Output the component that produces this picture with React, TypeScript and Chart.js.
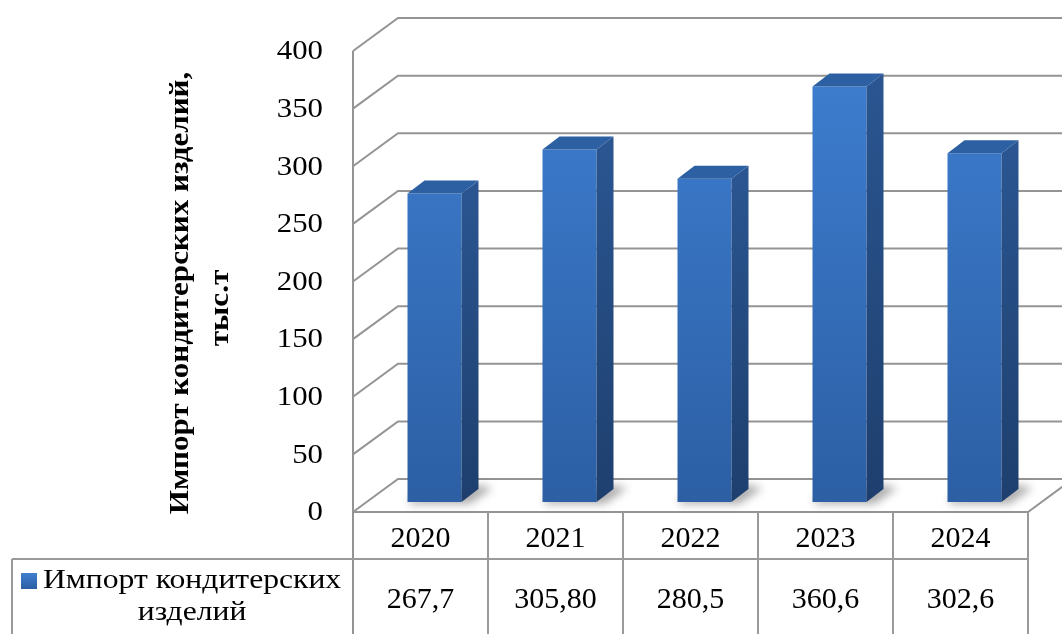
import React, { useEffect, useRef } from "react";
import { Chart, registerables } from "chart.js";

Chart.register(...registerables);

// ---- data ----
const years = ["2020", "2021", "2022", "2023", "2024"];
const importValues = [267.7, 305.8, 280.5, 360.6, 302.6];
const valueLabels = ["267,7", "305,80", "280,5", "360,6", "302,6"];
const yTicks = [0, 50, 100, 150, 200, 250, 300, 350, 400];
const seriesName = "Импорт кондитерских изделий";
const axisTitleLines = ["Импорт кондитерских изделий,", "тыс.т"];
const legendLines = ["Импорт кондитерских", "изделий"];

// ---- layout / style ----
const W = 1062;
const H = 634;
const FONT = '"Liberation Serif", "Times New Roman", serif';
const FRONT = { dx: -14, dy: 10 };
const BACK = { dx: 31, dy: -23 };
const BAR_DEPTH = { dx: 17, dy: -13 };
const GRID = "#949494";
const TABLE_ROW1 = 47;
const STRETCH = 1.1;

function stretchedText(ctx: CanvasRenderingContext2D, text: string, x: number, y: number, sx: number, rot = 0) {
  ctx.save();
  ctx.translate(x, y);
  if (rot) ctx.rotate(rot);
  ctx.scale(sx, 1);
  ctx.fillText(text, 0, 0);
  ctx.restore();
}

const pseudo3d = {
  id: "pseudo3d",
  beforeDatasetsDraw(chart: any) {
    const { ctx } = chart;
    const xs = chart.scales.x;
    const ys = chart.scales.y;
    const fl = xs.left + FRONT.dx;
    const fr = xs.right + FRONT.dx;
    const bl = xs.left + BACK.dx;
    const br = xs.right + BACK.dx;
    const top = ys.getPixelForValue(yTicks[yTicks.length - 1]);
    const zero = ys.getPixelForValue(0);
    ctx.save();
    ctx.strokeStyle = GRID;
    ctx.lineWidth = 2;
    ctx.beginPath();
    yTicks.forEach((v) => {
      const p = ys.getPixelForValue(v);
      ctx.moveTo(fl, p + FRONT.dy);
      ctx.lineTo(bl, p + BACK.dy);
      ctx.lineTo(br, p + BACK.dy);
    });
    ctx.moveTo(fl, top + FRONT.dy);
    ctx.lineTo(fl, H + 5);
    ctx.moveTo(fl, zero + FRONT.dy);
    ctx.lineTo(fr, zero + FRONT.dy);
    ctx.lineTo(br, zero + BACK.dy);
    ctx.stroke();

    // soft shadows on the floor
    const meta = chart.getDatasetMeta(0);
    ctx.filter = "blur(4px)";
    ctx.fillStyle = "rgba(0,0,0,0.32)";
    meta.data.forEach((bar: any) => {
      const { x, base, width } = bar.getProps(["x", "base", "width"], true);
      const l = x - width / 2;
      const r = x + width / 2;
      ctx.beginPath();
      ctx.moveTo(l + 2, base + 2);
      ctx.lineTo(r + 8, base + 2);
      ctx.lineTo(r + BAR_DEPTH.dx + 14, base + BAR_DEPTH.dy - 1);
      ctx.lineTo(r + BAR_DEPTH.dx, base + BAR_DEPTH.dy - 4);
      ctx.lineTo(l + 2, base - 4);
      ctx.closePath();
      ctx.fill();
    });
    ctx.restore();
  },
  afterDatasetsDraw(chart: any) {
    const { ctx } = chart;
    const meta = chart.getDatasetMeta(0);
    ctx.save();
    meta.data.forEach((bar: any) => {
      const { x, y, base, width } = bar.getProps(["x", "y", "base", "width"], true);
      const l = x - width / 2;
      const r = x + width / 2;
      const sg = ctx.createLinearGradient(0, y, 0, base);
      sg.addColorStop(0, "#2a5590");
      sg.addColorStop(1, "#1e3f6e");
      ctx.fillStyle = sg;
      ctx.beginPath();
      ctx.moveTo(r, y);
      ctx.lineTo(r + BAR_DEPTH.dx, y + BAR_DEPTH.dy);
      ctx.lineTo(r + BAR_DEPTH.dx, base + BAR_DEPTH.dy);
      ctx.lineTo(r, base);
      ctx.closePath();
      ctx.fill();
      ctx.fillStyle = "#2d60a2";
      ctx.beginPath();
      ctx.moveTo(l, y);
      ctx.lineTo(l + BAR_DEPTH.dx, y + BAR_DEPTH.dy);
      ctx.lineTo(r + BAR_DEPTH.dx, y + BAR_DEPTH.dy);
      ctx.lineTo(r, y);
      ctx.closePath();
      ctx.fill();
    });
    ctx.restore();
  },
  afterDraw(chart: any) {
    const { ctx } = chart;
    const xs = chart.scales.x;
    const ys = chart.scales.y;
    const fl = xs.left + FRONT.dx;
    const fr = xs.right + FRONT.dx;
    const zero = ys.getPixelForValue(0) + FRONT.dy;
    const catW = xs.getPixelForValue(1) - xs.getPixelForValue(0);
    const row2 = zero + TABLE_ROW1;
    const legendLeft = 12;
    ctx.save();

    // tick labels
    ctx.fillStyle = "#000";
    ctx.font = `28px ${FONT}`;
    ctx.textAlign = "right";
    ctx.textBaseline = "middle";
    yTicks.forEach((v) => {
      stretchedText(ctx, String(v), fl - 30, ys.getPixelForValue(v) + FRONT.dy + 1, STRETCH);
    });

    // axis title
    ctx.font = `bold 27px ${FONT}`;
    ctx.textAlign = "center";
    ctx.textBaseline = "alphabetic";
    stretchedText(ctx, axisTitleLines[0], 188, 293, 1.15, -Math.PI / 2);
    stretchedText(ctx, axisTitleLines[1], 228, 308, 1.15, -Math.PI / 2);

    // data table lines
    ctx.strokeStyle = "#9a9a9a";
    ctx.lineWidth = 2;
    ctx.beginPath();
    for (let i = 1; i <= years.length; i++) {
      const xv = fl + i * catW;
      ctx.moveTo(xv, zero);
      ctx.lineTo(xv, H + 5);
    }
    ctx.moveTo(legendLeft, row2);
    ctx.lineTo(fr, row2);
    ctx.moveTo(legendLeft, row2);
    ctx.lineTo(legendLeft, H + 5);
    ctx.stroke();

    // table text
    ctx.fillStyle = "#000";
    ctx.font = `30px ${FONT}`;
    ctx.textAlign = "center";
    ctx.textBaseline = "middle";
    years.forEach((yr, i) => {
      const cx = fl + (i + 0.5) * catW;
      ctx.fillText(yr, cx, zero + 27);
      ctx.fillText(valueLabels[i], cx, row2 + 41);
    });

    // legend key
    const mx = 21;
    const my = row2 + 14;
    const mg = ctx.createLinearGradient(0, my, 0, my + 16);
    mg.addColorStop(0, "#3f7fd0");
    mg.addColorStop(1, "#2b5ea3");
    ctx.fillStyle = mg;
    ctx.fillRect(mx, my, 16, 16);
    ctx.fillStyle = "#000";
    ctx.font = `28px ${FONT}`;
    ctx.textBaseline = "middle";
    const t1x = 43;
    const w1 = ctx.measureText(legendLines[0]).width * 1.13;
    ctx.textAlign = "left";
    stretchedText(ctx, legendLines[0], t1x, row2 + 22, 1.13);
    ctx.textAlign = "center";
    stretchedText(ctx, legendLines[1], t1x + w1 / 2, row2 + 54, 1.13);
    ctx.restore();
  },
};

export default function App() {
  const ref = useRef<HTMLCanvasElement | null>(null);
  useEffect(() => {
    if (!ref.current) return;
    const chart = new Chart(ref.current, {
      type: "bar",
      data: {
        labels: years,
        datasets: [
          {
            label: seriesName,
            data: importValues,
            backgroundColor: (c: any) => {
              const area = c.chart.chartArea;
              if (!area) return "#3573c2";
              const g = c.chart.ctx.createLinearGradient(0, area.top, 0, area.bottom);
              g.addColorStop(0, "#3e7fd2");
              g.addColorStop(1, "#2c5fa4");
              return g;
            },
            borderWidth: 0,
            barPercentage: 0.4,
            categoryPercentage: 1,
          },
        ],
      },
      options: {
        animation: false,
        responsive: false,
        maintainAspectRatio: false,
        devicePixelRatio: 1,
        layout: { padding: { left: 367, right: 20, top: 41, bottom: 132 } },
        scales: {
          x: { display: false },
          y: { display: false, min: 0, max: 400, ticks: { stepSize: 50 } },
        },
        plugins: { legend: { display: false }, tooltip: { enabled: false } },
      },
      plugins: [pseudo3d],
    });
    return () => chart.destroy();
  }, []);
  return (
    <div style={{ position: "fixed", left: 0, top: 0, width: W, height: H, background: "#fff" }}>
      <canvas ref={ref} width={W} height={H} style={{ width: W, height: H, display: "block" }} />
    </div>
  );
}
